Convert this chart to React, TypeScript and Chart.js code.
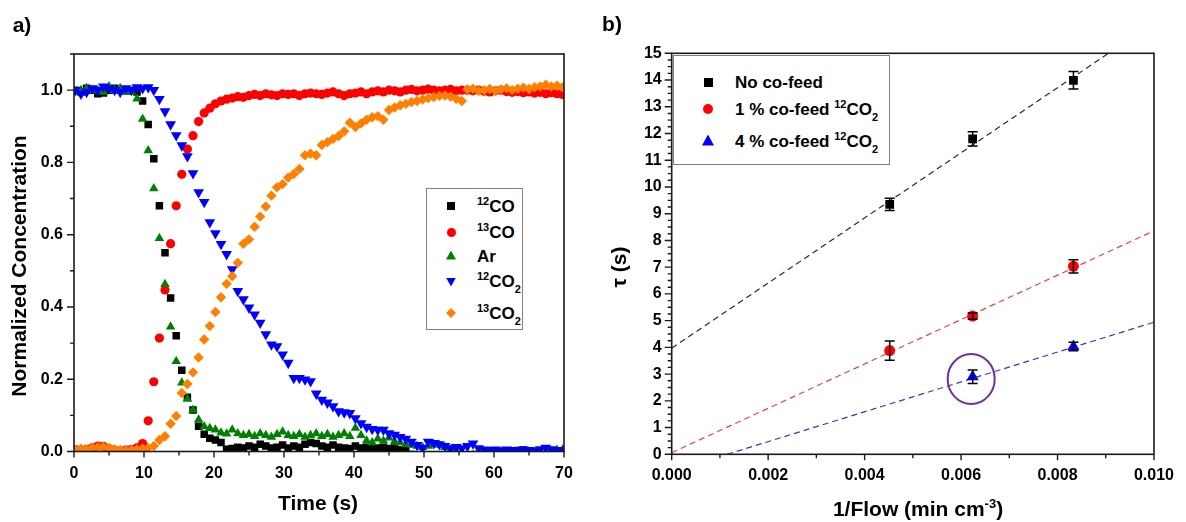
import React, { useEffect, useRef } from "react";
import { Chart, registerables } from "chart.js";

Chart.register(...registerables);

const FONT = "'Liberation Sans', Arial, Helvetica, sans-serif";
Chart.defaults.font.family = FONT;
Chart.defaults.color = "#000";

// ---------------- Panel a: step response ----------------
const time = [
  0.2, 1.0, 1.8, 2.6, 3.4, 4.2, 5.0, 5.8,
  6.6, 7.4, 8.2, 9.0, 9.8, 10.6, 11.4, 12.2,
  13.0, 13.8, 14.6, 15.4, 16.2, 17.0, 17.8, 18.6,
  19.4, 20.2, 21.0, 21.8, 22.6, 23.4, 24.2, 25.0,
  25.8, 26.6, 27.4, 28.2, 29.0, 29.8, 30.6, 31.4,
  32.2, 33.0, 33.8, 34.6, 35.4, 36.2, 37.0, 37.8,
  38.6, 39.4, 40.2, 41.0, 41.8, 42.6, 43.4, 44.2,
  45.0, 45.8, 46.6, 47.4, 48.2, 49.0, 49.8, 50.6,
  51.4, 52.2, 53.0, 53.8, 54.6, 55.4, 56.2, 57.0,
  57.8, 58.6, 59.4, 60.2, 61.0, 61.8, 62.6, 63.4,
  64.2, 65.0, 65.8, 66.6, 67.4, 68.2, 69.0, 69.8,
];

const co12 = [
  1.0, 0.995, 1.005, 1.0, 0.99, 0.992, 1.0, 1.005,
  1.0, 0.998, 1.0, 0.995, 0.97, 0.905, 0.81, 0.68,
  0.55, 0.425, 0.32, 0.225, 0.15, 0.115, 0.07, 0.048,
  0.037, 0.032, 0.025, 0.006, 0.008, 0.012, 0.01, 0.015,
  0.012, 0.02, 0.015, 0.01, 0.012, 0.018, 0.01, 0.015,
  0.012, 0.02, 0.025, 0.022, 0.015, 0.012, 0.018, 0.012,
  0.01, 0.008, 0.015, 0.01, 0.012, 0.008, 0.01, 0.012,
  0.008, 0.01, 0.005, 0.008, -0.008, -0.012, -0.01, -0.012,
  -0.01, -0.012, -0.01, -0.012, -0.01, -0.012, -0.01, -0.012,
  -0.01, -0.012, -0.01, -0.012, -0.01, -0.008, 0.0, 0.003,
  0.004, 0.002, -0.005, -0.01, -0.012, -0.01, -0.012, -0.01,
];

const co13 = [
  0.005, 0.003, 0.006, 0.01, 0.015, 0.014, 0.008, 0.004,
  0.002, 0.004, 0.006, 0.01, 0.022, 0.085, 0.193, 0.314,
  0.447, 0.575, 0.68, 0.767, 0.837, 0.874, 0.913, 0.937,
  0.95, 0.962, 0.97, 0.975, 0.978, 0.982, 0.98, 0.985,
  0.988, 0.985, 0.99, 0.987, 0.985, 0.99, 0.988, 0.99,
  0.985, 0.99, 0.992, 0.99, 0.988, 0.992, 0.995, 0.99,
  0.985, 0.99, 0.992, 0.995, 0.99, 0.995, 0.998, 0.995,
  1.0, 0.998, 0.995, 1.0, 1.002, 0.998, 1.0, 1.003,
  1.0, 0.998, 1.0, 1.002, 0.998, 1.0, 1.0, 0.998,
  1.0, 0.997, 0.995, 0.998, 1.0, 0.996, 0.994, 0.996,
  0.993, 0.995, 0.992, 0.994, 0.99, 0.993, 0.99, 0.988,
];

const ar = [
  0.995, 1.0, 1.005, 0.998, 1.0, 0.995, 1.01, 1.0,
  1.005, 0.995, 0.995, 0.976, 0.92, 0.833, 0.728, 0.59,
  0.463, 0.345, 0.25, 0.19, 0.145, 0.115, 0.088, 0.069,
  0.064, 0.06, 0.052, 0.049, 0.06, 0.05, 0.045, 0.048,
  0.042, 0.05, 0.045, 0.04, 0.048, 0.055, 0.045, 0.042,
  0.048, 0.04, 0.045, 0.05, 0.042, 0.048, 0.04, 0.045,
  0.05, 0.042, 0.065, 0.045, 0.03, 0.025, 0.035, 0.03,
  0.038, 0.028, 0.025, 0.02, 0.018, 0.015, 0.012, 0.015,
  0.02, 0.018, 0.012, 0.005, 0.0, -0.005, -0.01, -0.01,
  -0.01, -0.01, -0.01, -0.01, -0.01, -0.01, -0.01, -0.01,
  -0.01, -0.01, -0.01, -0.01, -0.01, 0.0, 0.004, 0.005,
];

const co2_12 = [
  1.0, 0.99, 0.995, 1.005, 1.0, 1.01, 1.005, 1.0,
  0.995, 1.005, 1.0, 1.008, 1.005, 1.008, 1.0, 0.975,
  0.941, 0.905, 0.875, 0.847, 0.817, 0.77, 0.717, 0.69,
  0.634, 0.604, 0.574, 0.546, 0.504, 0.444, 0.421, 0.398,
  0.379, 0.356, 0.324, 0.296, 0.291, 0.268, 0.245, 0.203,
  0.203, 0.199, 0.194, 0.16, 0.143, 0.135, 0.125, 0.111,
  0.108, 0.106, 0.092, 0.078, 0.068, 0.062, 0.06, 0.06,
  0.05, 0.046, 0.04, 0.035, 0.027, 0.018, 0.01, 0.027,
  0.023, 0.02, 0.015, 0.009, 0.012, 0.009, 0.015, 0.022,
  0.009, 0.005, 0.004, 0.005, 0.003, 0.005, 0.004, 0.003,
  0.005, 0.004, 0.003, 0.006, 0.01, 0.006, 0.004, 0.003,
];

const co2_13 = [
  0.005, 0.008, 0.006, 0.01, 0.012, 0.013, 0.01, 0.006,
  0.004, 0.003, 0.005, 0.006, 0.008, 0.01, 0.015, 0.032,
  0.042, 0.077, 0.098, 0.162, 0.187, 0.219, 0.26, 0.31,
  0.347, 0.386, 0.427, 0.464, 0.485, 0.522, 0.575, 0.587,
  0.622, 0.65, 0.678, 0.708, 0.731, 0.74, 0.758, 0.768,
  0.782, 0.82, 0.824, 0.82, 0.848, 0.856, 0.865, 0.873,
  0.886, 0.91, 0.898, 0.908, 0.918, 0.925, 0.928, 0.918,
  0.945, 0.952, 0.958, 0.962, 0.967, 0.97, 0.974, 0.978,
  0.981, 0.984, 0.985, 0.982, 0.976, 0.97, 1.002, 1.004,
  0.998, 1.0, 1.003, 0.998, 1.002, 1.005, 1.0, 1.004,
  1.007, 1.003, 1.008, 1.01, 1.015, 1.01, 1.012, 1.008,
];

const xTicksA = [0, 10, 20, 30, 40, 50, 60, 70];
const yTicksA = [0, 0.2, 0.4, 0.6, 0.8, 1.0];

// ---------------- Panel b: residence time vs 1/flow ----------------
const invFlow = [0.00452, 0.00624, 0.00833];
const tauNoCofeed = [9.35, 11.8, 13.99];
const errNoCofeed = [0.23, 0.27, 0.33];
const tauCofeed1 = [3.88, 5.17, 7.03];
const errCofeed1 = [0.36, 0.12, 0.25];
const invFlow4 = [0.00624, 0.00833];
const tauCofeed4 = [2.9, 4.03];
const errCofeed4 = [0.25, 0.16];

const fitX = [0, 0.01];
const fitNoCofeed = [3.97, 16.15];
const fitCofeed1 = [0.06, 8.36];
const fitX4 = [0.00115, 0.01];
const fitCofeed4 = [0, 4.94];

const highlight = [0.00621, 2.82];

const xTicksB = [0, 0.002, 0.004, 0.006, 0.008, 0.01];
const yTicksB = [0, 1, 2, 3, 4, 5, 6, 7, 8, 9, 10, 11, 12, 13, 14, 15];

const BLACK = "#000000";
const RED = "#ff0000";
const GREEN = "#008000";
const BLUE = "#0000ff";
const ORANGE = "#ff8000";

const AXIS = "#1a1a1a";

function framePlugin(xMajor: number[], xMinorN: number, yMajor: number[], yMinorN: number, yMinorTop: boolean) {
  return {
    id: "frameTicks",
    afterDraw(chart: any) {
      const { ctx, chartArea: a } = chart;
      const xs = chart.scales.x;
      const ys = chart.scales.y;
      ctx.save();
      ctx.strokeStyle = AXIS;
      ctx.lineWidth = 1.6;
      ctx.strokeRect(a.left, a.top, a.right - a.left, a.bottom - a.top);
      ctx.lineWidth = 1.4;
      ctx.beginPath();
      for (let i = 0; i < xMajor.length; i++) {
        const p = xs.getPixelForValue(xMajor[i]);
        ctx.moveTo(p, a.bottom);
        ctx.lineTo(p, a.bottom + 6);
        if (i < xMajor.length - 1) {
          for (let j = 1; j <= xMinorN; j++) {
            const v = xMajor[i] + ((xMajor[i + 1] - xMajor[i]) * j) / (xMinorN + 1);
            const q = xs.getPixelForValue(v);
            ctx.moveTo(q, a.bottom);
            ctx.lineTo(q, a.bottom + 4);
          }
        }
      }
      for (let i = 0; i < yMajor.length; i++) {
        const p = ys.getPixelForValue(yMajor[i]);
        ctx.moveTo(a.left, p);
        ctx.lineTo(a.left - 7, p);
        const last = i === yMajor.length - 1;
        if (!last || yMinorTop) {
          const step = last ? yMajor[i] - yMajor[i - 1] : yMajor[i + 1] - yMajor[i];
          for (let j = 1; j <= yMinorN; j++) {
            const v = yMajor[i] + (step * j) / (yMinorN + 1);
            const q = ys.getPixelForValue(v);
            if (q < a.top - 0.5) continue;
            ctx.moveTo(a.left, q);
            ctx.lineTo(a.left - 4, q);
          }
        }
      }
      ctx.stroke();
      ctx.restore();
    },
  };
}

const errorBarPlugin = {
  id: "errorBars",
  afterDatasetsDraw(chart: any) {
    const { ctx } = chart;
    const xs = chart.scales.x;
    const ys = chart.scales.y;
    ctx.save();
    ctx.strokeStyle = "#000";
    ctx.lineWidth = 1.5;
    const draw = (xv: number[], yv: number[], ev: number[]) => {
      for (let i = 0; i < xv.length; i++) {
        const px = xs.getPixelForValue(xv[i]);
        const top = ys.getPixelForValue(yv[i] + ev[i]);
        const bot = ys.getPixelForValue(yv[i] - ev[i]);
        ctx.beginPath();
        ctx.moveTo(px, top);
        ctx.lineTo(px, bot);
        ctx.moveTo(px - 5, top);
        ctx.lineTo(px + 5, top);
        ctx.moveTo(px - 5, bot);
        ctx.lineTo(px + 5, bot);
        ctx.stroke();
      }
    };
    draw(invFlow, tauNoCofeed, errNoCofeed);
    draw(invFlow, tauCofeed1, errCofeed1);
    draw(invFlow4, tauCofeed4, errCofeed4);
    // highlighted point circle
    const cx = xs.getPixelForValue(highlight[0]);
    const cy = ys.getPixelForValue(highlight[1]);
    ctx.strokeStyle = "#7030a0";
    ctx.lineWidth = 2;
    ctx.beginPath();
    ctx.ellipse(cx, cy, 23.5, 25, 0, 0, Math.PI * 2);
    ctx.stroke();
    ctx.restore();
  },
};

const tickFont = { family: FONT, size: 16, weight: "bold" as const };

function PanelA() {
  const ref = useRef<HTMLCanvasElement>(null);
  useEffect(() => {
    const mk = (ys: number[]) => time.map((t, i) => ({ x: t, y: ys[i] }));
    const ds = (label: string, ys: number[], color: string, style: string, r: number, rot = 0) => ({
      label,
      data: mk(ys),
      pointStyle: style,
      pointRadius: r,
      pointRotation: rot,
      pointBackgroundColor: color,
      pointBorderColor: color,
      pointBorderWidth: 0,
      showLine: false,
      clip: 0,
    });
    const chart = new Chart(ref.current!, {
      type: "scatter",
      data: {
        datasets: [
          ds("13CO2", co2_13, ORANGE, "rectRot", 5.2),
          ds("12CO2", co2_12, BLUE, "triangle", 6.2, 180),
          ds("Ar", ar, GREEN, "triangle", 5.5),
          ds("13CO", co13, RED, "circle", 4.6),
          ds("12CO", co12, BLACK, "rect", 5.3),
        ] as any,
      },
      options: {
        responsive: false,
        animation: false,
        events: [],
        layout: { padding: { left: 0, right: 26, top: 54, bottom: 0 } },
        plugins: { legend: { display: false }, tooltip: { enabled: false } },
        scales: {
          x: {
            type: "linear",
            min: 0,
            max: 70,
            grid: { display: false, drawTicks: false },
            border: { display: false },
            ticks: { font: tickFont, padding: 12, color: "#000", maxRotation: 0, callback: (v: any) => String(v) },
            afterBuildTicks: (s: any) => {
              s.ticks = xTicksA.map((v) => ({ value: v }));
            },
            afterFit: (s: any) => {
              s.height = 70.5;
            },
          },
          y: {
            type: "linear",
            min: 0,
            max: 1.1,
            grid: { display: false, drawTicks: false },
            border: { display: false },
            ticks: { font: tickFont, padding: 11, color: "#000", callback: (v: any) => Number(v).toFixed(1) },
            afterBuildTicks: (s: any) => {
              s.ticks = yTicksA.map((v) => ({ value: v }));
            },
            afterFit: (s: any) => {
              s.width = 74;
            },
          },
        },
      } as any,
      plugins: [framePlugin(xTicksA, 1, yTicksA, 1, true)],
    });
    return () => chart.destroy();
  }, []);
  return <canvas ref={ref} width={590} height={522} style={{ position: "absolute", left: 0, top: 0 }} />;
}

function PanelB() {
  const ref = useRef<HTMLCanvasElement>(null);
  useEffect(() => {
    const pts = (xv: number[], yv: number[]) => xv.map((x, i) => ({ x, y: yv[i] }));
    const marker = (label: string, xv: number[], yv: number[], color: string, style: string, r: number) => ({
      label,
      data: pts(xv, yv),
      pointStyle: style,
      pointRadius: r,
      pointBackgroundColor: color,
      pointBorderColor: color,
      pointBorderWidth: 0,
      showLine: false,
    });
    const fit = (label: string, xv: number[], yv: number[], color: string) => ({
      label,
      data: pts(xv, yv),
      showLine: true,
      borderColor: color,
      borderWidth: 1.2,
      borderDash: [6, 4],
      pointRadius: 0,
      fill: false,
      clip: 0,
    });
    const chart = new Chart(ref.current!, {
      type: "scatter",
      data: {
        datasets: [
          marker("No co-feed", invFlow, tauNoCofeed, BLACK, "rect", 6.2),
          marker("1 % co-feed 12CO2", invFlow, tauCofeed1, RED, "circle", 5.5),
          marker("4 % co-feed 12CO2", invFlow4, tauCofeed4, BLUE, "triangle", 7),
          fit("fit no co-feed", fitX, fitNoCofeed, "#2a2a2a"),
          fit("fit 1 %", fitX, fitCofeed1, "#e0444c"),
          fit("fit 4 %", fitX4, fitCofeed4, "#3535c8"),
        ] as any,
      },
      options: {
        responsive: false,
        animation: false,
        events: [],
        layout: { padding: { left: 0, right: 22.7, top: 53.3, bottom: 0 } },
        plugins: { legend: { display: false }, tooltip: { enabled: false } },
        scales: {
          x: {
            type: "linear",
            min: 0,
            max: 0.01,
            grid: { display: false, drawTicks: false },
            border: { display: false },
            ticks: { font: tickFont, padding: 12, color: "#000", maxRotation: 0, callback: (v: any) => Number(v).toFixed(3) },
            afterBuildTicks: (s: any) => {
              s.ticks = xTicksB.map((v) => ({ value: v }));
            },
            afterFit: (s: any) => {
              s.height = 67.7;
            },
          },
          y: {
            type: "linear",
            min: 0,
            max: 15,
            grid: { display: false, drawTicks: false },
            border: { display: false },
            ticks: { font: tickFont, padding: 10, color: "#000", callback: (v: any) => String(v) },
            afterBuildTicks: (s: any) => {
              s.ticks = yTicksB.map((v) => ({ value: v }));
            },
            afterFit: (s: any) => {
              s.width = 81.7;
            },
          },
        },
      } as any,
      plugins: [framePlugin(xTicksB, 1, yTicksB, 3, false), errorBarPlugin],
    });
    return () => chart.destroy();
  }, []);
  return <canvas ref={ref} width={596} height={522} style={{ position: "absolute", left: 590, top: 0 }} />;
}

type Shape = "square" | "circle" | "up" | "down" | "diamond";

function Marker({ shape, color, w, h, cx, cy }: { shape: Shape; color: string; w: number; h: number; cx: number; cy: number }) {
  const clips: Record<Shape, string | undefined> = {
    square: undefined,
    circle: undefined,
    up: "polygon(50% 0%, 100% 100%, 0% 100%)",
    down: "polygon(0% 0%, 100% 0%, 50% 100%)",
    diamond: "polygon(50% 0%, 100% 50%, 50% 100%, 0% 50%)",
  };
  return (
    <div
      style={{
        position: "absolute",
        left: cx - w / 2,
        top: cy - h / 2,
        width: w,
        height: h,
        background: color,
        borderRadius: shape === "circle" ? "50%" : 0,
        clipPath: clips[shape],
      }}
    />
  );
}

const supStyle: React.CSSProperties = { fontSize: 11, position: "relative", top: -7 };
const subStyle: React.CSSProperties = { fontSize: 11, position: "relative", top: 6 };

function Label({ x, y, size, children }: { x: number; y: number; size: number; children: React.ReactNode }) {
  return (
    <div style={{ position: "absolute", left: x, top: y, transform: "translateY(-50%)", fontSize: size, lineHeight: 1, whiteSpace: "nowrap" }}>
      {children}
    </div>
  );
}

function Centered({ x, y, size, rotate, children }: { x: number; y: number; size: number; rotate?: boolean; children: React.ReactNode }) {
  return (
    <div
      style={{
        position: "absolute",
        left: x,
        top: y,
        transform: `translate(-50%, -50%)${rotate ? " rotate(-90deg)" : ""}`,
        fontSize: size,
        lineHeight: 1,
        whiteSpace: "nowrap",
      }}
    >
      {children}
    </div>
  );
}

export default function App() {
  return (
    <div
      style={{
        position: "absolute",
        left: 0,
        top: 0,
        width: 1186,
        height: 522,
        background: "#fff",
        fontFamily: FONT,
        fontWeight: "bold",
        color: "#000",
        overflow: "hidden",
      }}
    >
      <PanelA />
      <PanelB />

      <Centered x={22} y={24} size={21}>a)</Centered>
      <Centered x={612} y={23} size={21}>b)</Centered>

      <Centered x={18} y={266} size={21} rotate>Normalized Concentration</Centered>
      <Centered x={318} y={502} size={21}>Time (s)</Centered>
      <Centered x={618} y={267} size={21} rotate>τ (s)</Centered>
      <Centered x={918} y={508} size={21}>
        1/Flow (min cm<span style={{ fontSize: 13, position: "relative", top: -8 }}>-3</span>)
      </Centered>

      {/* legend a */}
      <div style={{ position: "absolute", left: 426, top: 188, width: 95, height: 140, border: "1px solid #808080", background: "#fff" }} />
      <Marker shape="square" color={BLACK} w={8} h={8} cx={451} cy={206} />
      <Label x={477} y={206} size={17}><span style={supStyle}>12</span>CO</Label>
      <Marker shape="circle" color={RED} w={9} h={9} cx={451} cy={232} />
      <Label x={477} y={232} size={17}><span style={supStyle}>13</span>CO</Label>
      <Marker shape="up" color={GREEN} w={10} h={9} cx={451} cy={255} />
      <Label x={477} y={256} size={17}>Ar</Label>
      <Marker shape="down" color={BLUE} w={10} h={9} cx={451} cy={282} />
      <Label x={477} y={281} size={17}><span style={supStyle}>12</span>CO<span style={subStyle}>2</span></Label>
      <Marker shape="diamond" color={ORANGE} w={10} h={10} cx={451} cy={313} />
      <Label x={477} y={313} size={17}><span style={supStyle}>13</span>CO<span style={subStyle}>2</span></Label>

      {/* legend b */}
      <div style={{ position: "absolute", left: 673, top: 55, width: 215, height: 108, border: "1px solid #808080", background: "#fff" }} />
      <Marker shape="square" color={BLACK} w={9} h={9} cx={708} cy={82} />
      <Label x={735} y={82} size={17}>No co-feed</Label>
      <Marker shape="circle" color={RED} w={10} h={10} cx={708} cy={109} />
      <Label x={735} y={109} size={17}>1 % co-feed <span style={supStyle}>12</span>CO<span style={subStyle}>2</span></Label>
      <Marker shape="up" color={BLUE} w={12} h={11} cx={708} cy={140} />
      <Label x={735} y={141} size={17}>4 % co-feed <span style={supStyle}>12</span>CO<span style={subStyle}>2</span></Label>
    </div>
  );
}
